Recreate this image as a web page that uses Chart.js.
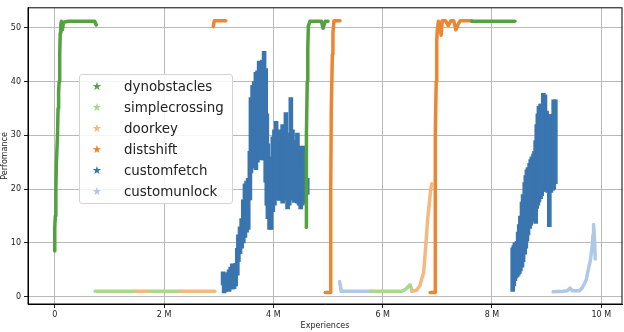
<!DOCTYPE html>
<html>
<head>
<meta charset="utf-8">
<script src="https://cdn.jsdelivr.net/npm/chart.js@4/dist/chart.umd.min.js"></script>
<style>
  body { margin: 0; background: #fff; }
  #wrap { position: relative; width: 624px; height: 332px; }
  #chart { position: absolute; left: 0; top: 0; }
  #legend {
    position: absolute; left: 79px; top: 74px; width: 152px; height: 128px;
    background: rgba(255,255,255,0.85); border: 1px solid #d4d4d4; border-radius: 3px;
    font-family: "DejaVu Sans", sans-serif;
  }
  .row { position: absolute; left: 0; height: 16px; line-height: 16px; white-space: nowrap; }
  .star { position: absolute; left: 12px; font-size: 11px; }
  .label { position: absolute; left: 44px; font-size: 13.4px; color: #222; }
</style>
</head>
<body>
<div id="wrap">
  <canvas id="chart" width="624" height="332"></canvas>
  <div id="legend"></div>
</div>
<script>
// series names and colours (legend order)
const SERIES = ["dynobstacles", "simplecrossing", "doorkey", "distshift", "customfetch", "customunlock"];
const COLORS = ["#54a13f", "#a8d98f", "#f3ba80", "#ee8530", "#3a75b0", "#afc8e7"];

// tick labels (x in millions of experiences)
const X_TICKS = [0, 2, 4, 6, 8, 10];
const Y_TICKS = [0, 10, 20, 30, 40, 50];

// ---------------------------
// data: [experiences (M), performance]
// ---------------------------

// dynobstacles
const dynobstaclesA = [[0.0, 8.5], [0.0, 13], [0.01, 15], [0.02, 20], [0.03, 25], [0.05, 30], [0.06, 35],
  [0.07, 38], [0.08, 40], [0.09, 45], [0.1, 49], [0.11, 50.5], [0.12, 51.2], [0.14, 49.6], [0.16, 51.0],
  [0.25, 51.2], [0.5, 51.2], [0.73, 51.2], [0.76, 50.5]];
const dynobstaclesB = [[4.6, 12.9], [4.6, 20], [4.61, 30], [4.62, 40], [4.63, 46], [4.64, 50.3], [4.67, 51.2],
  [4.88, 51.2], [4.91, 49.9], [4.95, 51.2], [5.0, 51.2]];
const dynobstaclesC = [[7.63, 51.2], [8.42, 51.2]];

// simplecrossing
const simplecrossingA = [[0.74, 1], [1.48, 1]];
const simplecrossingB = [[1.68, 1], [2.3, 1]];
const simplecrossingC = [[5.78, 1], [6.35, 1], [6.42, 1.4], [6.47, 1.9], [6.5, 2.2], [6.53, 1.4]];

// doorkey
const doorkeyA = [[1.48, 1], [1.68, 1]];
const doorkeyB = [[2.3, 1], [2.93, 1]];
const doorkeyC = [[6.53, 1], [6.62, 1.2], [6.68, 2], [6.72, 3.5], [6.75, 4.5], [6.77, 7], [6.8, 11],
  [6.82, 14], [6.85, 17], [6.88, 20], [6.9, 21]];

// distshift
const distshiftA = [[2.9, 50.2], [2.92, 51.3], [3.13, 51.3]];
const distshiftB = [[4.95, 0.8], [5.04, 0.8], [5.05, 3], [5.05, 20], [5.06, 35], [5.08, 45], [5.09, 49],
  [5.11, 51.3], [5.22, 51.3]];
const distshiftC = [[6.87, 0.8], [6.96, 0.8], [6.96, 5], [6.96, 20], [6.97, 30], [6.98, 40], [6.99, 47.8],
  [7.0, 49.5], [7.02, 51.2], [7.05, 50], [7.07, 48.6], [7.09, 51.3], [7.15, 51.3], [7.2, 50.4], [7.25, 51.3],
  [7.3, 51.3], [7.34, 49.6], [7.38, 50.6], [7.42, 51.3], [7.63, 51.3]];

// customfetch: noisy cloud read as columns [x, low, high]
const customfetchA = [
  [3.08, 2.2, 4.6], [3.10, 0.7, 4.0], [3.13, 1.0, 3.5], [3.16, 1.2, 4.5], [3.19, 1.0, 5.0], [3.22, 1.5, 5.5],
  [3.25, 1.4, 6.1], [3.28, 1.5, 5.8], [3.31, 2.0, 6.2], [3.34, 4.0, 9.0], [3.36, 6.5, 11.5], [3.39, 8.0, 13],
  [3.42, 9.0, 14.5], [3.45, 10, 18], [3.48, 11, 21], [3.51, 12, 21.5], [3.54, 12.5, 22], [3.57, 18, 27],
  [3.59, 23, 37], [3.62, 24.5, 39.3], [3.65, 24, 40], [3.68, 23.6, 41.7], [3.71, 25, 42], [3.74, 26, 43.8],
  [3.77, 25.5, 42.5], [3.80, 25.4, 44], [3.83, 25.4, 45.6], [3.86, 21.3, 42.4], [3.88, 17, 34],
  [3.90, 14.5, 28.4], [3.93, 12.5, 26], [3.96, 12.5, 24.2], [3.99, 15.8, 29.7], [4.02, 17, 31],
  [4.05, 18.1, 32.6], [4.08, 18, 30], [4.11, 17.9, 31], [4.14, 18.5, 29], [4.17, 17.4, 32], [4.20, 18, 30.5],
  [4.23, 18, 34.2], [4.26, 16.3, 30.4], [4.29, 17, 29], [4.32, 18, 37], [4.35, 18.5, 31], [4.38, 17.5, 29],
  [4.41, 18, 28.5], [4.44, 17.4, 30.4], [4.47, 17, 27], [4.50, 16.3, 28], [4.53, 17, 26.5], [4.56, 17.4, 28],
  [4.59, 18.7, 24.2], [4.62, 19, 22]
];
const customfetchB = [
  [8.38, 1.0, 9.1], [8.40, 2.0, 9.5], [8.42, 3.0, 10], [8.44, 3.5, 10], [8.46, 3.7, 10.3], [8.48, 4.0, 12],
  [8.50, 4.3, 13.4], [8.52, 4.8, 15], [8.55, 5.5, 17.6], [8.57, 6.5, 19], [8.60, 7.9, 21.2], [8.62, 9, 22.5],
  [8.64, 10.3, 23.6], [8.66, 11.5, 24], [8.69, 12.7, 24.8], [8.71, 13.3, 25.5], [8.73, 14, 26],
  [8.76, 14.5, 26.5], [8.78, 15.2, 27], [8.80, 13.6, 29], [8.82, 16.4, 32], [8.84, 17, 34], [8.86, 17.6, 35.4],
  [8.89, 18.2, 35.8], [8.91, 18.8, 35.8], [8.94, 19.5, 37.8], [8.97, 20, 37.5], [9.00, 19.8, 34.5],
  [9.02, 19.4, 33.9], [9.05, 13, 33], [9.08, 19.4, 33.9], [9.11, 19.8, 33], [9.13, 20, 36.6], [9.16, 21, 36.6]
];

// customunlock
const customunlockA = [[5.21, 2.8], [5.23, 1.9], [5.24, 1], [5.8, 1]];
const customunlockB = [[9.12, 0.9], [9.3, 1], [9.38, 1.1], [9.43, 1.6], [9.47, 1.1], [9.6, 1.1],
  [9.65, 1.6], [9.7, 2.6], [9.73, 3.3], [9.76, 4.9], [9.8, 6.7], [9.83, 9], [9.85, 11.5], [9.86, 13.4],
  [9.88, 10], [9.89, 7]];

// ---------------------------
// dataset builders
// ---------------------------

function trail(points, seriesIdx, order) {
  return {
    type: "line",
    label: SERIES[seriesIdx],
    data: points.map(([x, y]) => ({ x, y })),
    borderColor: COLORS[seriesIdx],
    borderWidth: 3.5,
    borderJoinStyle: "round",
    borderCapStyle: "round",
    pointRadius: 0,
    tension: 0,
    fill: false,
    order
  };
}

// cloud = thin floating bars from low to high at each column
function cloud(cols, seriesIdx, order) {
  return {
    type: "bar",
    label: SERIES[seriesIdx],
    data: cols.map(([x, lo, hi]) => ({ x, y: [lo, hi] })),
    backgroundColor: COLORS[seriesIdx],
    borderWidth: 0,
    barThickness: 4,
    grouped: false,
    order
  };
}

const datasets = [
  trail(dynobstaclesA, 0, 1),
  trail(dynobstaclesB, 0, 1),
  trail(dynobstaclesC, 0, 1),
  trail(distshiftA, 3, 2),
  trail(distshiftB, 3, 2),
  trail(distshiftC, 3, 2),
  trail(doorkeyA, 2, 3),
  trail(doorkeyB, 2, 3),
  trail(doorkeyC, 2, 3),
  trail(simplecrossingA, 1, 4),
  trail(simplecrossingB, 1, 4),
  trail(simplecrossingC, 1, 4),
  trail(customunlockA, 5, 5),
  trail(customunlockB, 5, 5),
  cloud(customfetchA, 4, 6),
  cloud(customfetchB, 4, 6)
];

// ---------------------------
// frame (top / right spines)
// ---------------------------

const framePlugin = {
  id: "frame",
  afterDraw(chart) {
    const { ctx, chartArea: a } = chart;
    ctx.save();
    ctx.strokeStyle = "#000";
    ctx.lineWidth = 1;
    ctx.strokeRect(a.left, a.top, a.right - a.left, a.bottom - a.top);
    ctx.restore();
  }
};

const FONT = { family: "'DejaVu Sans', sans-serif", size: 8 };

new Chart(document.getElementById("chart"), {
  type: "line",
  data: { datasets },
  options: {
    responsive: false,
    animation: false,
    layout: { padding: { left: 0, right: 2, top: 1, bottom: 0 } },
    plugins: { legend: { display: false }, tooltip: { enabled: false } },
    scales: {
      x: {
        type: "linear",
        offset: false,
        min: -0.49,
        max: 10.38,
        afterBuildTicks: s => { s.ticks = X_TICKS.map(v => ({ value: v })); },
        afterFit: s => { s.height = 28; },
        grid: { color: "#b9b9b9", tickColor: "#222", tickLength: 4, offset: false },
        border: { color: "#000", width: 1 },
        ticks: { font: FONT, color: "#222", padding: 2, maxRotation: 0,
          callback: v => (v === 0 ? "0" : v + " M") },
        title: { display: true, text: "Experiences", font: FONT, color: "#222", padding: { top: 0, bottom: 1 } }
      },
      y: {
        type: "linear",
        min: -1.36,
        max: 53.7,
        afterBuildTicks: s => { s.ticks = Y_TICKS.map(v => ({ value: v })); },
        afterFit: s => { s.width = 28; },
        grid: { color: "#b9b9b9", tickColor: "#222", tickLength: 4 },
        border: { color: "#000", width: 1 },
        ticks: { font: FONT, color: "#222", padding: 3 },
        title: { display: true, text: "Perfomance", font: FONT, color: "#222", padding: { top: 0, bottom: 0 } }
      }
    }
  },
  plugins: [framePlugin]
});

// ---------------------------
// legend (inside the plot)
// ---------------------------

const legend = document.getElementById("legend");
SERIES.forEach((name, i) => {
  const row = document.createElement("div");
  row.className = "row";
  row.style.top = (4 + i * 20.9) + "px";
  row.innerHTML = `<span class="star" style="color:${COLORS[i]}">★</span><span class="label">${name}</span>`;
  legend.appendChild(row);
});
</script>
</body>
</html>
